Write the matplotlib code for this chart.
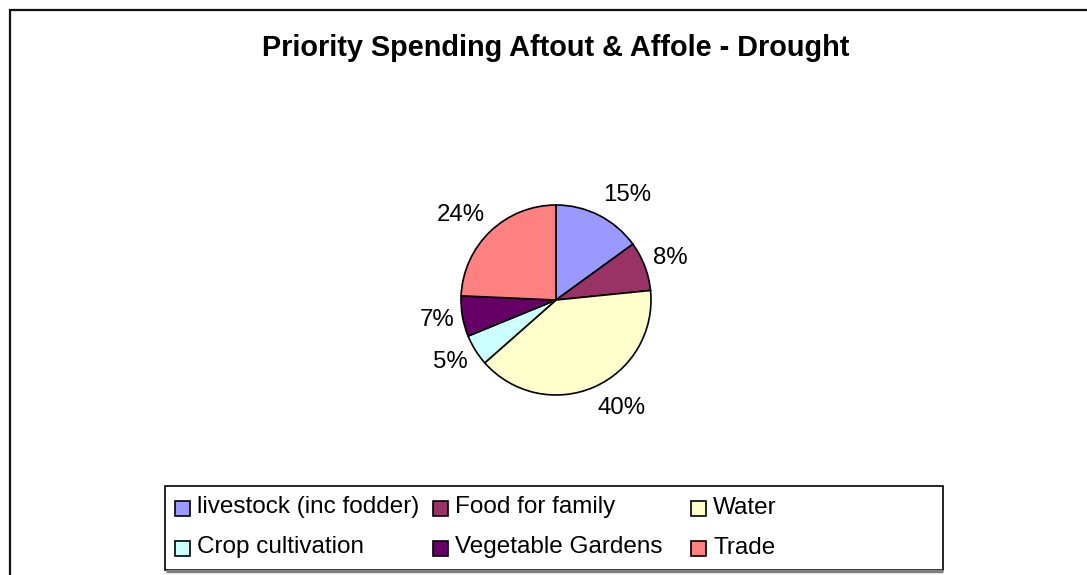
import matplotlib
matplotlib.use("Agg")
import numpy as np
from matplotlib import pyplot as plt
from matplotlib.patches import Rectangle

plt.rcParams["font.family"] = ["Liberation Sans", "DejaVu Sans"]

categories = ["livestock (inc fodder)", "Food for family", "Water",
              "Crop cultivation", "Vegetable Gardens", "Trade"]
shares = [15.0, 8.4, 40.1, 5.3, 6.9, 24.3]
colors = ["#9999FF", "#993366", "#FFFFCC", "#CCFFFF", "#660066", "#FF8080"]
title = "Priority Spending Aftout & Affole - Drought"

W, H = 1087, 575
fig = plt.figure(figsize=(W / 100, H / 100), dpi=100)
ax = fig.add_axes([0, 0, 1, 1])

def py(y):
    # pixel row (from top) -> data y
    return H - y

# outer chart border (runs off the right and bottom edges)
ax.add_patch(Rectangle((9.5, -20), W + 20, py(9.5) + 20, fill=False,
                       edgecolor="#111111", linewidth=1.6, clip_on=False))

ax.text(556, py(48), title, ha="center", va="center",
        fontsize=20.8, fontweight="bold")

cx, cy, r = 556, py(300), 95
wedges, _ = ax.pie(shares, colors=colors, center=(cx, cy), radius=r,
                   startangle=90, counterclock=False,
                   wedgeprops=dict(edgecolor="black", linewidth=1.2))

# percentage labels just outside each wedge
gap = 8.5
for w, v in zip(wedges, shares):
    mid = np.deg2rad((w.theta1 + w.theta2) / 2)
    ux, uy = np.cos(mid), np.sin(mid)
    x = cx + (r + gap) * ux
    y = cy + (r + gap) * uy + 14 * uy
    ax.text(x, y, f"{v:.0f}%", fontsize=17.3,
            ha="left" if ux > 0 else "right", va="center")

ax.set_xlim(0, W)
ax.set_ylim(0, H)
ax.set_aspect("equal")
ax.axis("off")

# legend drawn by hand: 3 equal columns, filled row by row
box_l, box_t, box_r, box_b = 165, 486, 943, 570
ax.add_patch(Rectangle((box_l, py(box_b)), box_r - box_l, box_b - box_t,
                       facecolor="white", edgecolor="black", linewidth=1.2))
ax.plot([box_l + 1, box_r], [py(box_b + 1), py(box_b + 1)], color="#808080",
        linewidth=2.5, solid_capstyle="butt")
col_w, row_h = 258, 40
for i, (name, c) in enumerate(zip(categories, colors)):
    row, col = divmod(i, 3)
    x0 = 175 + col * col_w
    yc = 508.5 + row * row_h
    ax.add_patch(Rectangle((x0, py(yc + 7.5)), 15, 15, facecolor=c,
                           edgecolor="black", linewidth=1.2))
    ax.text(x0 + 22, py(yc - 1), name, fontsize=17.5, ha="left", va="center")

fig.savefig("out.png", dpi=100)
